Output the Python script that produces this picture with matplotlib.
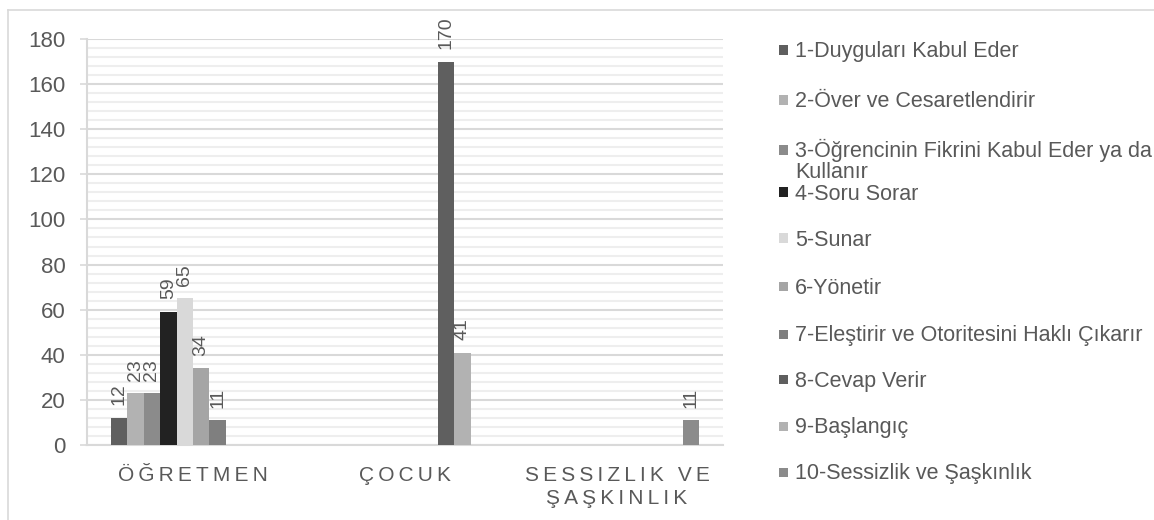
import numpy as np
import matplotlib.pyplot as plt
from matplotlib.patches import Rectangle
from matplotlib.lines import Line2D

plt.rcParams['font.family'] = ['Liberation Sans', 'DejaVu Sans']

# Categories and the ten observation codes
categories = ['ÖĞRETMEN', 'ÇOCUK', 'SESSIZLIK VE\nŞAŞKINLIK']
series_names = [
    '1-Duyguları Kabul Eder',
    '2-Över ve Cesaretlendirir',
    '3-Öğrencinin Fikrini Kabul Eder ya da\nKullanır',
    '4-Soru Sorar',
    '5-Sunar',
    '6-Yönetir',
    '7-Eleştirir ve Otoritesini Haklı Çıkarır',
    '8-Cevap Verir',
    '9-Başlangıç',
    '10-Sessizlik ve Şaşkınlık',
]
# counts per series for [ÖĞRETMEN, ÇOCUK, SESSİZLİK VE ŞAŞKINLIK]
s1 = [12, 0, 0]
s2 = [23, 0, 0]
s3 = [23, 0, 0]
s4 = [59, 0, 0]
s5 = [65, 0, 0]
s6 = [34, 0, 0]
s7 = [11, 0, 0]
s8 = [0, 170, 0]
s9 = [0, 41, 0]
s10 = [0, 0, 11]
series_values = [s1, s2, s3, s4, s5, s6, s7, s8, s9, s10]

colors = ['#5f5f5f', '#b2b2b2', '#8b8b8b', '#222222', '#d9d9d9',
          '#a5a5a5', '#7f7f7f', '#5f5f5f', '#b2b2b2', '#8b8b8b']

# vertical pixel centre of each legend row
legend_rows = [50, 100, 150, 192, 238, 286, 334, 379, 426, 472]


def spaced(label):
    # letter-spaced category names, thin space between letters
    lines = []
    for line in label.split('\n'):
        words = [('\u2009').join(w) for w in line.split(' ')]
        lines.append('\u2009\u2009 '.join(words))
    return '\n'.join(lines)


W, H = 1154, 520
fig = plt.figure(figsize=(W / 100, H / 100), dpi=100)
ax = fig.add_axes([87 / W, 1 - 445 / H, (723 - 87) / W, (445 - 39) / H])

x = np.arange(len(categories))
bw = 0.774 / len(series_values)
for i, vals in enumerate(series_values):
    pos = x - 0.387 + bw * (i + 0.5)
    bars = ax.bar(pos, vals, width=bw, color=colors[i], zorder=3)
    for b, v in zip(bars, vals):
        if v > 0:
            ax.annotate(str(v), (b.get_x() + b.get_width() / 2, v),
                        xytext=(0, 9), textcoords='offset points',
                        rotation=90, ha='center', va='bottom',
                        fontsize=14, color='#595959')

ax.set_xlim(-0.5, 2.5)
ax.set_ylim(0, 180)
ax.set_yticks(np.arange(0, 181, 20))
ax.set_yticks(np.arange(0, 181, 4), minor=True)
ax.grid(axis='y', which='major', color='#d9d9d9', linewidth=1.5, zorder=0)
ax.grid(axis='y', which='minor', color='#eeeeee', linewidth=1.5, zorder=0)
ax.set_axisbelow(True)

ax.set_xticks(x)
ax.set_xticklabels([spaced(c) for c in categories], fontsize=15,
                   color='#595959', linespacing=1.3)
ax.tick_params(axis='x', length=0, pad=15)
ax.tick_params(axis='y', which='major', length=5, color='#d9d9d9', width=1.2,
               labelsize=16, labelcolor='#595959', pad=10.5)
ax.tick_params(axis='y', which='minor', length=0)

for side in ['top', 'right']:
    ax.spines[side].set_visible(False)
for side in ['left', 'bottom']:
    ax.spines[side].set_color('#d9d9d9')
    ax.spines[side].set_linewidth(1.5)

# Legend drawn as a column of swatches and labels on the right
for i, name in enumerate(series_names):
    yc = legend_rows[i]
    fig.patches.append(Rectangle((779 / W, 1 - (yc + 4.5) / H), 9 / W, 9 / H,
                                 transform=fig.transFigure, facecolor=colors[i],
                                 edgecolor='none'))
    for k, line in enumerate(name.split('\n')):
        fig.text(795 / W, 1 - (yc + 7.5 + 20 * k) / H, line, fontsize=15.5,
                 color='#595959', va='baseline', ha='left')

# chart area border
fig.add_artist(Line2D([8 / W, 1], [1 - 10 / H, 1 - 10 / H], color='#d9d9d9',
                      linewidth=1.2, transform=fig.transFigure))
fig.add_artist(Line2D([8 / W, 8 / W], [0, 1 - 10 / H], color='#d9d9d9',
                      linewidth=1.2, transform=fig.transFigure))

fig.savefig('out.png', dpi=100)
